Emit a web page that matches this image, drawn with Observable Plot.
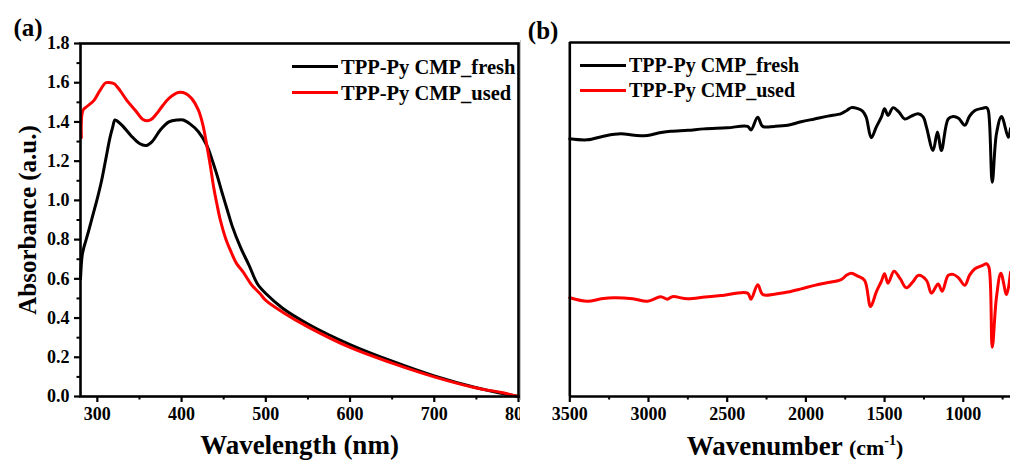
<!DOCTYPE html>
<html><head><meta charset="utf-8">
<script src="https://cdn.jsdelivr.net/npm/d3@7"></script>
<script src="https://cdn.jsdelivr.net/npm/@observablehq/plot@0.6"></script>
<style>
body{margin:0;background:#fff;}
#wrap{position:relative;width:1010px;height:460px;overflow:hidden;font-family:"Liberation Serif","Times New Roman",Times,"DejaVu Serif",serif;font-weight:bold;background:#fff;}
#pa{position:absolute;left:0;top:0;width:520px;height:460px;overflow:hidden;}
#pb{position:absolute;left:520px;top:0;width:490px;height:460px;overflow:hidden;}
#sep{position:absolute;left:520px;top:40px;width:1px;height:360px;background:#c4c4c4;}
.leg{position:absolute;display:flex;align-items:center;line-height:20px;white-space:nowrap;}
.leg span.sw{display:inline-block;width:46px;height:3px;margin-right:3px;}
</style></head><body>
<div id="wrap"><div id="pa"></div><div id="pb"></div><div id="sep"></div></div>
<script>
// ---------- Panel (a): UV-vis ----------
const seriesNames = ["TPP-Py CMP_fresh", "TPP-Py CMP_used"];
const seriesColors = ["#000000", "#ff0000"];

const uvFreshWl  = [280, 282, 284, 286, 290, 295, 300, 305, 310, 315, 318, 321, 325, 330, 340, 350, 358, 365, 375, 385, 395, 402, 410, 420, 430, 436, 442, 448, 454, 460, 470, 480, 490, 500, 520, 550, 600, 650, 700, 750, 800];
const uvFreshAbs = [0.60, 0.72, 0.76, 0.79, 0.85, 0.93, 1.01, 1.10, 1.21, 1.32, 1.37, 1.41, 1.40, 1.38, 1.33, 1.29, 1.28, 1.30, 1.36, 1.40, 1.41, 1.41, 1.39, 1.35, 1.28, 1.21, 1.13, 1.04, 0.955, 0.87, 0.76, 0.67, 0.575, 0.525, 0.45, 0.37, 0.265, 0.18, 0.105, 0.045, 0.0];

const uvUsedWl  = [281, 283, 288, 296, 303, 310, 315, 320, 327, 335, 345, 355, 363, 370, 377, 385, 396, 405, 412, 420, 425, 430, 434, 438, 442, 446, 452, 458, 465, 473, 483, 493, 500, 520, 550, 600, 650, 700, 750, 760, 780, 800];
const uvUsedAbs = [1.32, 1.46, 1.48, 1.51, 1.56, 1.60, 1.60, 1.595, 1.56, 1.51, 1.46, 1.41, 1.41, 1.44, 1.48, 1.52, 1.55, 1.545, 1.52, 1.46, 1.39, 1.28, 1.18, 1.07, 0.98, 0.90, 0.81, 0.745, 0.68, 0.635, 0.57, 0.525, 0.49, 0.43, 0.355, 0.25, 0.17, 0.10, 0.043, 0.035, 0.02, 0.0];

const uvXTicks = [300, 400, 500, 600, 700, 800];
const uvXMinor = [350, 450, 550, 650, 750];
const uvYTicks = [0.0, 0.2, 0.4, 0.6, 0.8, 1.0, 1.2, 1.4, 1.6, 1.8];
const uvYMinor = [0.1, 0.3, 0.5, 0.7, 0.9, 1.1, 1.3, 1.5, 1.7];

// ---------- Panel (b): FT-IR ----------
const irFreshWn = [3500, 3389, 3280, 3177, 3090, 3007, 2930, 2859, 2750, 2648, 2500, 2370, 2349, 2306, 2274, 2200, 2115, 2030, 1945, 1860, 1776, 1740, 1712, 1670, 1640, 1617, 1585, 1553, 1520, 1500, 1478, 1446, 1410, 1372, 1330, 1287, 1255, 1234, 1192, 1164, 1139, 1096, 1064, 1030, 990, 960, 926, 880, 852, 841, 816, 789, 757, 714, 700];
const irFreshT  = [72.8, 72.5, 73.6, 74.2, 73.8, 73.7, 74.5, 74.9, 75.2, 75.6, 75.9, 76.3, 75.3, 78.9, 76.3, 76.3, 76.6, 77.6, 78.4, 79.2, 79.9, 80.8, 81.6, 81.3, 80.6, 78.9, 73.1, 76.1, 79.0, 81.3, 79.4, 81.6, 80.4, 78.4, 79.2, 79.9, 79.0, 76.1, 69.5, 74.7, 69.5, 78.4, 79.1, 78.6, 76.6, 79.2, 80.8, 81.4, 81.6, 80.8, 60.5, 74.3, 79.1, 73.2, 75.7];

const irUsedWn = [3500, 3389, 3300, 3219, 3100, 3007, 2922, 2880, 2848, 2753, 2640, 2540, 2370, 2349, 2306, 2274, 2200, 2115, 2030, 1945, 1860, 1776, 1740, 1712, 1670, 1627, 1589, 1553, 1520, 1500, 1478, 1440, 1400, 1362, 1320, 1287, 1234, 1202, 1160, 1134, 1096, 1064, 1030, 990, 960, 926, 880, 852, 837, 816, 789, 761, 725, 700];
const irUsedT  = [27.9, 26.9, 27.6, 27.9, 27.6, 26.9, 28.2, 27.5, 28.2, 27.6, 28.1, 28.5, 29.2, 27.5, 31.6, 28.8, 28.9, 29.5, 30.4, 31.4, 32.2, 33.0, 34.3, 34.8, 34.0, 32.8, 25.4, 29.5, 32.6, 34.7, 32.0, 35.4, 33.2, 30.7, 32.4, 34.2, 32.8, 29.2, 31.8, 29.7, 34.2, 34.5, 33.5, 31.4, 34.3, 36.1, 37.0, 37.5, 36.5, 13.9, 28.1, 34.8, 28.8, 35.1];

const irXTicks = [3500, 3000, 2500, 2000, 1500, 1000];
const irXMinor = [3250, 2750, 2250, 1750, 1250, 750];

const toRows = (xs, ys, s) => xs.map((x, i) => ({x, y: ys[i], s}));
const uvData = [...toRows(uvFreshWl, uvFreshAbs, seriesNames[0]), ...toRows(uvUsedWl, uvUsedAbs, seriesNames[1])];
const irData = [...toRows(irFreshWn, irFreshT, seriesNames[0]), ...toRows(irUsedWn, irUsedT, seriesNames[1])];

const font = "'Liberation Serif', 'Times New Roman', Times, 'DejaVu Serif', serif";
const colorScale = {domain: seriesNames, range: seriesColors};

const plotA = Plot.plot({
  width: 520, height: 460,
  marginLeft: 80, marginRight: 2, marginTop: 43, marginBottom: 64,
  style: {fontFamily: font, fontWeight: "bold", background: "white", overflow: "visible"},
  x: {domain: [280, 800], axis: null, label: null},
  y: {domain: [0, 1.8], axis: null, label: null},
  color: colorScale,
  marks: [
    Plot.line(uvData, {x: "x", y: "y", stroke: "s", z: "s", strokeWidth: 3, curve: "catmull-rom"}),
    Plot.frame({stroke: "black", strokeWidth: 2.6}),
    Plot.axisX({ticks: uvXTicks, tickSize: 6, strokeWidth: 2.2, tickPadding: 5, fontSize: 18, fontWeight: "bold", tickFormat: d => String(d), label: null}),
    Plot.axisX({ticks: uvXMinor, tickSize: 3.5, strokeWidth: 2, tickFormat: () => "", label: null}),
    Plot.axisY({ticks: uvYTicks, tickSize: 6, strokeWidth: 2.2, tickPadding: 5, fontSize: 18, fontWeight: "bold", tickFormat: d3.format(".1f"), label: null}),
    Plot.axisY({ticks: uvYMinor, tickSize: 3.5, strokeWidth: 2, tickFormat: () => "", label: null}),
    Plot.text(["Wavelength (nm)"], {frameAnchor: "bottom", dy: 49, lineAnchor: "middle", textAnchor: "middle", fontSize: 27, fontWeight: "bold", fill: "black"}),
    Plot.text(["Absorbance (a.u.)"], {frameAnchor: "left", dx: -53, rotate: -90, textAnchor: "middle", lineAnchor: "middle", fontSize: 25, fontWeight: "bold", fill: "black"}),
    Plot.text(["(a)"], {frameAnchor: "top-left", dx: -67, dy: -16, textAnchor: "start", lineAnchor: "middle", fontSize: 25, fontWeight: "bold", fill: "black"})
  ]
});
document.getElementById("pa").appendChild(plotA);

const plotB = Plot.plot({
  width: 490, height: 460,
  marginLeft: 49.3, marginRight: 0, marginTop: 42, marginBottom: 64,
  style: {fontFamily: font, fontWeight: "bold", background: "white", overflow: "visible"},
  x: {domain: [3500, 700], axis: null, label: null},
  y: {domain: [0, 100], axis: null, label: null},
  color: colorScale,
  marks: [
    Plot.line(irData, {x: "x", y: "y", stroke: "s", z: "s", strokeWidth: 3, curve: "catmull-rom"}),
    Plot.ruleY([100], {stroke: "black", strokeWidth: 2.6}),
    Plot.ruleY([0], {stroke: "black", strokeWidth: 2.6}),
    Plot.ruleX([3500], {stroke: "black", strokeWidth: 2.6}),
    Plot.axisX({ticks: irXTicks, tickSize: 6, strokeWidth: 2.2, tickPadding: 5, fontSize: 18, fontWeight: "bold", tickFormat: d => String(d), label: null}),
    Plot.axisX({ticks: irXMinor, tickSize: 3.5, strokeWidth: 2, tickFormat: () => "", label: null}),
    Plot.text(["(b)"], {frameAnchor: "top-left", dx: -42, dy: -12, textAnchor: "start", lineAnchor: "middle", fontSize: 25, fontWeight: "bold", fill: "black"})
  ]
});
document.getElementById("pb").appendChild(plotB);

// x-axis title with superscript for panel (b)
const t = d3.select(plotB).append("text")
  .attr("x", 275).attr("y", 455)
  .attr("text-anchor", "middle")
  .attr("font-family", font).attr("font-weight", "bold").attr("fill", "black");
t.append("tspan").attr("font-size", 27).text("Wavenumber ");
t.append("tspan").attr("font-size", 22).text("(cm");
t.append("tspan").attr("font-size", 14).attr("dy", -10).text("-1");
t.append("tspan").attr("font-size", 22).attr("dy", 10).text(")");

// legends (HTML overlay)
function legend(left, tops, size) {
  seriesNames.forEach((name, i) => {
    const d = document.createElement("div");
    d.className = "leg";
    d.style.left = left + "px";
    d.style.top = (tops[i] - 10) + "px";
    d.style.height = "20px";
    d.style.fontSize = size + "px";
    d.innerHTML = `<span class="sw" style="background:${seriesColors[i]}"></span><span>${name}</span>`;
    document.getElementById("wrap").appendChild(d);
  });
}
legend(292, [66.5, 92.5], 20.5);
legend(580, [65, 90], 20);
</script>
</body></html>
